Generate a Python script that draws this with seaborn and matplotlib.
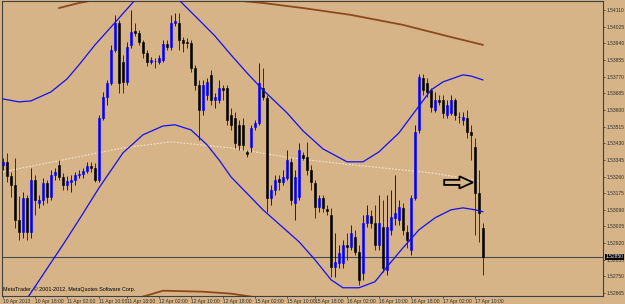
import matplotlib
matplotlib.use("Agg")
import matplotlib.pyplot as plt
import matplotlib.transforms as mtransforms
from matplotlib.patches import FancyArrow
import pandas as pd
import seaborn as sns

sns.set_theme(style="white")
plt.rcParams['font.family'] = ['Liberation Sans', 'DejaVu Sans']

# EURUSD-style H1 candles, 10 Apr 10:00 .. 17 Apr 12:00 (one entry per bar)
open_ = [1.53320, 1.53335, 1.53263, 1.53218, 1.53039, 1.52978, 1.53151, 1.52978, 1.53243, 1.53126,
         1.53141, 1.53228, 1.53156, 1.53269, 1.53320, 1.53258, 1.53218, 1.53233, 1.53243, 1.53269,
         1.53274, 1.53289, 1.53314, 1.53304, 1.53243, 1.53559, 1.53666, 1.53738, 1.53906, 1.54044,
         1.53845, 1.53743, 1.53932, 1.54003, 1.53993, 1.53947, 1.53891, 1.53845, 1.53850, 1.53845,
         1.53855, 1.53937, 1.53921, 1.54044, 1.54044, 1.53957, 1.53947, 1.53942, 1.53814, 1.53728,
         1.53600, 1.53677, 1.53779, 1.53651, 1.53651, 1.53712, 1.53712, 1.53575, 1.53559, 1.53524,
         1.53524, 1.53386, 1.53411, 1.53513, 1.53534, 1.53712, 1.53661, 1.53151, 1.53192, 1.53248,
         1.53233, 1.53253, 1.53335, 1.53126, 1.53156, 1.53371, 1.53360, 1.53294, 1.53228, 1.53105,
         1.53151, 1.53095, 1.53065, 1.52799, 1.52820, 1.52820, 1.52912, 1.52901, 1.52952, 1.52876,
         1.52769, 1.53024, 1.53059, 1.53024, 1.52912, 1.53003, 1.52784, 1.52988, 1.53049, 1.53039,
         1.53100, 1.52978, 1.52886, 1.53151, 1.53498, 1.53763, 1.53738, 1.53702, 1.53600, 1.53651,
         1.53651, 1.53575, 1.53585, 1.53651, 1.53564, 1.53549, 1.53559, 1.53488, 1.53411, 1.53177,
         1.52998]
high = [1.53355, 1.53381, 1.53284, 1.53355, 1.53161, 1.53182, 1.53167, 1.53304, 1.53269, 1.53167,
        1.53253, 1.53243, 1.53294, 1.53304, 1.53345, 1.53279, 1.53263, 1.53269, 1.53284, 1.53294,
        1.53304, 1.53335, 1.53335, 1.53330, 1.53575, 1.53692, 1.53753, 1.53932, 1.54085, 1.54059,
        1.53881, 1.53947, 1.54110, 1.54044, 1.54008, 1.53957, 1.53906, 1.53870, 1.53865, 1.53881,
        1.53957, 1.53957, 1.54085, 1.54095, 1.54095, 1.53972, 1.53967, 1.53957, 1.53830, 1.53753,
        1.53753, 1.53763, 1.53804, 1.53687, 1.53753, 1.53728, 1.53728, 1.53610, 1.53590, 1.53549,
        1.53559, 1.53396, 1.53524, 1.53549, 1.53840, 1.53814, 1.53677, 1.53218, 1.53269, 1.53269,
        1.53294, 1.53396, 1.53355, 1.53294, 1.53432, 1.53386, 1.53437, 1.53320, 1.53243, 1.53167,
        1.53167, 1.53116, 1.53100, 1.52973, 1.52912, 1.52937, 1.52973, 1.53014, 1.52988, 1.52912,
        1.53065, 1.53116, 1.53090, 1.53116, 1.53167, 1.53141, 1.53167, 1.53192, 1.53269, 1.53141,
        1.53126, 1.53014, 1.53167, 1.53524, 1.53784, 1.53784, 1.53763, 1.53712, 1.53692, 1.53677,
        1.53677, 1.53651, 1.53677, 1.53661, 1.53590, 1.53590, 1.53600, 1.53524, 1.53457, 1.53294,
        1.53024]
low = [1.53294, 1.53233, 1.53156, 1.52998, 1.52937, 1.52947, 1.52937, 1.52947, 1.53065, 1.53100,
       1.53116, 1.53126, 1.53141, 1.53243, 1.53243, 1.53192, 1.53192, 1.53182, 1.53218, 1.53253,
       1.53253, 1.53279, 1.53284, 1.53233, 1.53233, 1.53549, 1.53626, 1.53728, 1.53896, 1.53687,
       1.53687, 1.53728, 1.53916, 1.53977, 1.53932, 1.53865, 1.53824, 1.53835, 1.53814, 1.53835,
       1.53845, 1.53906, 1.53906, 1.54028, 1.53906, 1.53896, 1.53916, 1.53794, 1.53702, 1.53447,
       1.53575, 1.53651, 1.53626, 1.53610, 1.53636, 1.53651, 1.53524, 1.53498, 1.53406, 1.53396,
       1.53396, 1.53360, 1.53386, 1.53498, 1.53524, 1.53651, 1.53080, 1.53116, 1.53167, 1.53192,
       1.53218, 1.53243, 1.53116, 1.53039, 1.53141, 1.53345, 1.53269, 1.53192, 1.53049, 1.53080,
       1.53080, 1.53065, 1.52748, 1.52748, 1.52794, 1.52794, 1.52835, 1.52886, 1.52861, 1.52708,
       1.52733, 1.53003, 1.52998, 1.52886, 1.52886, 1.52774, 1.52759, 1.52963, 1.53014, 1.53014,
       1.52963, 1.52896, 1.52861, 1.53141, 1.53483, 1.53677, 1.53666, 1.53590, 1.53590, 1.53626,
       1.53559, 1.53559, 1.53575, 1.53549, 1.53534, 1.53524, 1.53457, 1.53345, 1.52963, 1.52927,
       1.52759]
close = [1.53335, 1.53263, 1.53218, 1.53039, 1.52978, 1.53151, 1.52978, 1.53243, 1.53141, 1.53141,
         1.53228, 1.53156, 1.53269, 1.53284, 1.53258, 1.53218, 1.53238, 1.53243, 1.53269, 1.53274,
         1.53289, 1.53314, 1.53304, 1.53243, 1.53559, 1.53666, 1.53738, 1.53906, 1.54044, 1.53738,
         1.53743, 1.53921, 1.53998, 1.53993, 1.53947, 1.53891, 1.53845, 1.53855, 1.53849, 1.53865,
         1.53937, 1.53921, 1.54044, 1.54054, 1.53957, 1.53942, 1.53942, 1.53814, 1.53728, 1.53600,
         1.53728, 1.53743, 1.53651, 1.53666, 1.53712, 1.53702, 1.53549, 1.53524, 1.53432, 1.53422,
         1.53422, 1.53376, 1.53508, 1.53534, 1.53738, 1.53666, 1.53151, 1.53192, 1.53243, 1.53233,
         1.53258, 1.53345, 1.53141, 1.53258, 1.53396, 1.53355, 1.53294, 1.53233, 1.53105, 1.53151,
         1.53100, 1.53085, 1.52799, 1.52825, 1.52871, 1.52912, 1.52901, 1.52973, 1.52876, 1.52733,
         1.53024, 1.53065, 1.53024, 1.52912, 1.53024, 1.52794, 1.53003, 1.53054, 1.53075, 1.53105,
         1.52988, 1.52937, 1.53151, 1.53488, 1.53768, 1.53702, 1.53692, 1.53615, 1.53651, 1.53641,
         1.53585, 1.53626, 1.53651, 1.53575, 1.53562, 1.53564, 1.53488, 1.53473, 1.53177, 1.53075,
         1.52850]

# indicator lines (bar index, price)
upper_bar = [0, 4, 7, 12, 16, 19, 23, 27, 31, 33, 36, 40, 43, 44, 50, 53, 57, 61, 65, 71, 75, 80,
             86, 90, 94, 99, 104, 107, 110, 115, 117, 120]
upper_val = [1.53656, 1.53641, 1.53646, 1.53692, 1.53758, 1.53830, 1.53932, 1.54023, 1.54115, 1.54161,
             1.54207, 1.54222, 1.54187, 1.54161, 1.54039, 1.53977, 1.53881, 1.53789, 1.53702, 1.53585,
             1.53493, 1.53401, 1.53335, 1.53335, 1.53386, 1.53483, 1.53620, 1.53702, 1.53743, 1.53779,
             1.53773, 1.53753]
lower_bar = [5, 10, 15, 19, 24, 30, 35, 40, 43, 47, 51, 54, 57, 65, 74, 78, 82, 85, 89, 93, 96,
             100, 104, 108, 112, 115, 118, 120]
lower_val = [1.52606, 1.52759, 1.52912, 1.53039, 1.53202, 1.53381, 1.53473, 1.53518, 1.53524, 1.53498,
             1.53422, 1.53345, 1.53258, 1.53090, 1.52927, 1.52835, 1.52733, 1.52692, 1.52692, 1.52723,
             1.52799, 1.52896, 1.52988, 1.53049, 1.53090, 1.53100, 1.53090, 1.53080]
mid_bar = [0, 15, 30, 42, 57, 72, 87, 107, 119]
mid_val = [1.53284, 1.53345, 1.53406, 1.53437, 1.53406, 1.53355, 1.53320, 1.53279, 1.53238]
slow_top_bar = [14, 19, 23, 30, 40, 50, 57, 65, 75, 87, 100, 112, 120]
slow_top_val = [1.54120, 1.54146, 1.54161, 1.54187, 1.54202, 1.54187, 1.54161, 1.54146, 1.54120,
                1.54085, 1.54034, 1.53972, 1.53932]
slow_bot_bar = [30, 34, 40, 50, 57, 64, 68]
slow_bot_val = [1.52621, 1.52641, 1.52677, 1.52672, 1.52662, 1.52641, 1.52621]

tick_bar = [0, 8, 16, 24, 31, 39, 47, 55, 63, 71, 78, 86, 94, 102, 110, 118]
tick_lab = ["10 Apr 2013", "10 Apr 18:00", "11 Apr 02:00", "11 Apr 10:00", "11 Apr 18:00",
            "12 Apr 02:00", "12 Apr 10:00", "12 Apr 18:00", "15 Apr 02:00", "15 Apr 10:00",
            "15 Apr 18:00", "16 Apr 02:00", "16 Apr 10:00", "16 Apr 18:00", "17 Apr 02:00",
            "17 Apr 10:00"]
price_ticks = [1.52665 + 0.00085 * k for k in range(18)]

bg = '#D6B488'
up_col = '#0000FF'
dn_col = '#000000'

df = pd.DataFrame({'bar': range(len(close)), 'open': open_, 'high': high,
                   'low': low, 'close': close})
df['up'] = df['close'] >= df['open']
df['body_lo'] = df[['open', 'close']].min(axis=1)
df['body_h'] = (df['close'] - df['open']).abs()

fig = plt.figure(figsize=(6.25, 3.04), dpi=100, facecolor=bg)
ax = fig.add_axes([0.0032, 0.0263, 0.9616, 0.9704])
ax.set_facecolor(bg)

# slow envelope (brown) and long MA (dotted)
sns.lineplot(x=slow_top_bar, y=slow_top_val, ax=ax, color='#8B4A1C', lw=1.3)
sns.lineplot(x=slow_bot_bar, y=slow_bot_val, ax=ax, color='#8B4A1C', lw=1.3)
sns.lineplot(x=mid_bar, y=mid_val, ax=ax, color='#F4E8DA', lw=0.8, linestyle=(0, (1.5, 1.5)))

# candles
wick_cols = [up_col if u else '#303030' for u in df['up']]
ax.vlines(df['bar'], df['low'], df['high'], colors=wick_cols, lw=0.7, zorder=3)
body_cols = [up_col if u else dn_col for u in df['up']]
ax.bar(df['bar'], df['body_h'], bottom=df['body_lo'], width=0.72, color=body_cols,
       edgecolor=body_cols, linewidth=0.4, zorder=4)

# bands
sns.lineplot(x=upper_bar, y=upper_val, ax=ax, color='#1010F0', lw=0.9, zorder=5)
sns.lineplot(x=lower_bar, y=lower_val, ax=ax, color='#1010F0', lw=0.9, zorder=5)

# current price line and label
last = close[-1]
ax.axhline(last, color='#4a4a4a', lw=0.8, zorder=2)
trans = mtransforms.blended_transform_factory(ax.transAxes, ax.transData)
ax.text(1.004, last, f"{last:.5f}", transform=trans, ha='left', va='center',
        color='white', fontsize=3.6, zorder=10, clip_on=False,
        bbox=dict(boxstyle='square,pad=0.15', fc='black', ec='none'))

# hand-drawn arrow pointing at the breakdown candle
arrow_tail, arrow_len, arrow_y = 110.3, 7.2, 1.53230
ax.add_patch(FancyArrow(arrow_tail, arrow_y, arrow_len, 0, width=0.00026, head_width=0.00062,
                        head_length=3.4, length_includes_head=True, fc='none', ec='black',
                        lw=1.3, zorder=8))

ax.text(0.002, 0.012, "MetaTrader, \u00a9 2001-2012, MetaQuotes Software Corp.",
        transform=ax.transAxes, fontsize=3.9, color='black', ha='left', va='bottom')

ax.set_xlim(-0.25, 150.0)
ax.set_ylim(1.52650, 1.54156)

ax.yaxis.tick_right()
ax.set_yticks(price_ticks)
ax.set_yticklabels([f"{p:.5f}" for p in price_ticks])
ax.set_xticks(tick_bar)
ax.set_xticklabels(tick_lab, ha='left')
ax.tick_params(axis='both', which='both', direction='out', length=1.5, width=0.6,
               color='#404040', labelsize=3.6, labelcolor='#303030')
ax.tick_params(axis='y', pad=1.0, right=True, left=False)
ax.tick_params(axis='x', pad=0.3, bottom=True)
for s in ax.spines.values():
    s.set_color('#404040')
    s.set_linewidth(0.8)
ax.set_xlabel('')
ax.set_ylabel('')

fig.savefig('out.png', dpi=100, facecolor=bg)
